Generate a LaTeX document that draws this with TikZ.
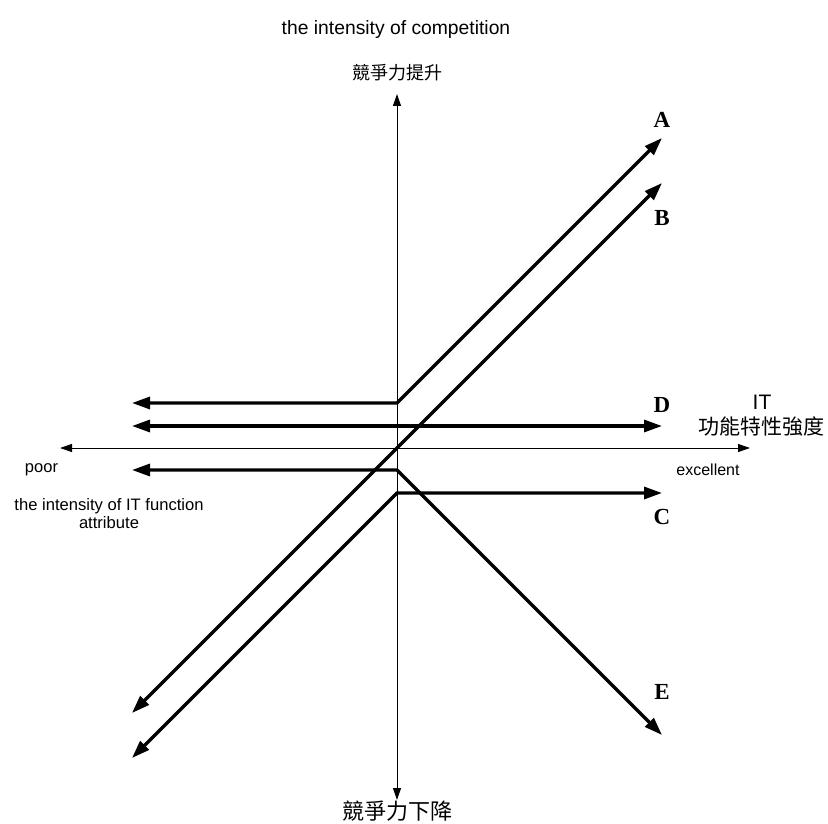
\documentclass[tikz,border=0pt]{standalone}
\usepackage{fontspec}
\setmainfont{Liberation Sans}
\newfontfamily\cjk{Noto Sans CJK TC}
\newfontfamily\tnr{Liberation Serif}
\usetikzlibrary{arrows.meta}
\begin{document}
\begin{tikzpicture}[x=1pt,y=-1pt,
  axisline/.style={line width=1pt,-{Triangle[length=12pt,width=8pt]}},
  thickline/.style={line width=3.2pt,{Triangle[length=18pt,width=12pt]}-{Triangle[length=18pt,width=12pt]}},
  letter/.style={font=\tnr\bfseries\fontsize{23}{23}\selectfont,inner sep=0pt},
  lbl/.style={inner sep=0pt,align=center}]
\useasboundingbox (0,0) rectangle (828,824);
% coordinates
\coordinate (O) at (397,448);
\coordinate (Vtop) at (397,94);
\coordinate (Vbot) at (397,800);
\coordinate (Hl) at (60,448);
\coordinate (Hr) at (750,448);
\coordinate (Al) at (132,403);
\coordinate (Ak) at (397,403);
\coordinate (Ar) at (662,138);
\coordinate (Dl) at (132,426);
\coordinate (Dr) at (662,426);
\coordinate (Bl) at (132,713);
\coordinate (Br) at (662,183);
\coordinate (El) at (132,470);
\coordinate (Ek) at (397,470);
\coordinate (Er) at (662,735);
\coordinate (Cl) at (132,758);
\coordinate (Ck) at (397,493);
\coordinate (Cr) at (662,493);
% axes
\draw[axisline] (O) -- (Vtop);
\draw[axisline] (O) -- (Vbot);
\draw[axisline] (O) -- (Hl);
\draw[axisline] (O) -- (Hr);
% strategy lines
\draw[thickline] (Al) -- (Ak) -- (Ar);
\draw[thickline] (Dl) -- (Dr);
\draw[thickline] (Bl) -- (Br);
\draw[thickline] (El) -- (Ek) -- (Er);
\draw[thickline] (Cl) -- (Ck) -- (Cr);
% letters
\node[letter] (lA) at (662,120) {A};
\node[letter] (lB) at (662,218) {B};
\node[letter] (lD) at (662,405) {D};
\node[letter] (lC) at (662,517) {C};
\node[letter] (lE) at (662,692) {E};
% texts
\node[lbl,anchor=base,font=\fontsize{19.3}{22}\selectfont] (tcomp) at (396,35) {the intensity of competition};
\node[lbl,font=\cjk\fontsize{18}{20}\selectfont] (tup) at (397,73) {競爭力提升};
\node[lbl,font=\cjk\fontsize{22}{24}\selectfont] (tdown) at (397,811) {競爭力下降};
\node[lbl,font=\fontsize{21}{23}\selectfont] (tIT) at (762,402) {IT};
\node[lbl,font=\cjk\fontsize{21}{23}\selectfont] (tITc) at (761,427) {功能特性強度};
\node[lbl,font=\fontsize{16}{18}\selectfont] (texc) at (708,470) {excellent};
\node[lbl,font=\fontsize{16.5}{18}\selectfont] (tpoor) at (41.5,470) {poor};
\node[lbl,font=\fontsize{16.6}{18}\selectfont] (tfun) at (109,514) {the intensity of IT function\\attribute};
\end{tikzpicture}
\end{document}
